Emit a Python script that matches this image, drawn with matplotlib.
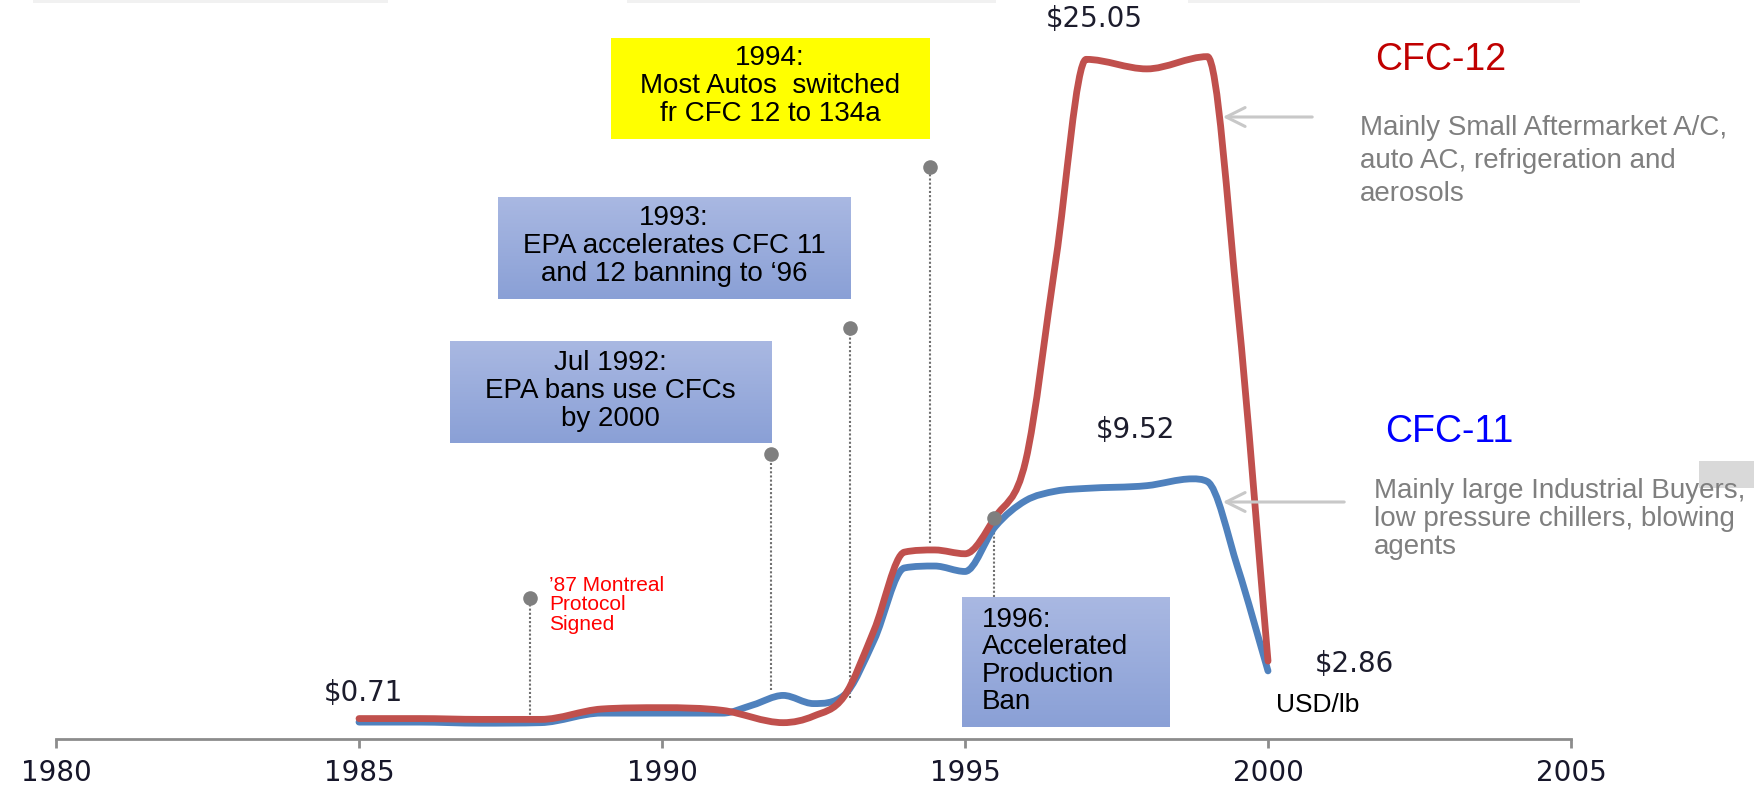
import numpy as np
import matplotlib
matplotlib.use("Agg")
import matplotlib.pyplot as plt
from matplotlib.path import Path
from matplotlib.patches import PathPatch, Rectangle, FancyArrowPatch
from matplotlib.colors import LinearSegmentedColormap

# CFC-12 price, USD/lb
cfc12_years = [1985, 1986, 1987, 1988, 1989, 1990, 1991, 1992, 1992.5, 1993, 1993.5,
               1994, 1994.5, 1995, 1995.5, 1996, 1996.5, 1997, 1998, 1999, 1999.5, 2000]
cfc12_price = [0.75, 0.75, 0.72, 0.72, 1.10, 1.15, 1.05, 0.60, 0.84, 1.55, 4.0,
               6.86, 6.94, 6.80, 8.15, 10.2, 17.6, 24.95, 24.6, 25.05, 15.8, 2.86]

# CFC-11 price, USD/lb
cfc11_years = [1985, 1986, 1987, 1988, 1989, 1990, 1991, 1991.5, 1992, 1992.5, 1993, 1993.5,
               1994, 1994.5, 1995, 1995.5, 1996, 1996.5, 1997, 1998, 1998.75, 1999, 1999.5, 2000]
cfc11_price = [0.62, 0.62, 0.58, 0.60, 0.95, 0.95, 0.95, 1.25, 1.60, 1.30, 1.60, 3.63,
               6.28, 6.35, 6.15, 7.8, 8.75, 9.1, 9.2, 9.3, 9.55, 9.45, 6.3, 2.5]

xticks = [1980, 1985, 1990, 1995, 2000, 2005]

# price call-outs
price_text = ["$0.71", "$25.05", "$9.52", "$2.86"]

# timeline events: year, dot height, bottom of the drop line
event_years = [1987.82, 1991.80, 1993.10, 1994.42, 1995.48]
event_dot = [5.18, 10.46, 15.09, 21.0, 8.11]
event_base = [0.75, 1.8, 1.5, 7.2, 5.2]

W, H = 1754, 787
fig = plt.figure(figsize=(W / 100, H / 100), dpi=100)


def fx(px):
    return px / W


def fy(py):
    return 1 - py / H


def smooth_path(x, y):
    # monotone cubic, drawn as bezier segments (smoothed line)
    x = np.asarray(x, float)
    y = np.asarray(y, float)
    d = np.diff(y) / np.diff(x)
    m = np.zeros(len(x))
    for i in range(1, len(x) - 1):
        if d[i - 1] * d[i] > 0:
            m[i] = (d[i - 1] + d[i]) / 2
            lim = 3 * min(abs(d[i - 1]), abs(d[i]))
            if abs(m[i]) > lim:
                m[i] = np.sign(m[i]) * lim
    m[0], m[-1] = d[0], d[-1]
    verts = [(x[0], y[0])]
    codes = [Path.MOVETO]
    for i in range(len(x) - 1):
        h = (x[i + 1] - x[i]) / 3
        verts += [(x[i] + h, y[i] + m[i] * h), (x[i + 1] - h, y[i + 1] - m[i + 1] * h), (x[i + 1], y[i + 1])]
        codes += [Path.CURVE4] * 3
    return Path(verts, codes)


ax = fig.add_axes([0, 48 / H, 1, 739 / H])
ax.set_xlim(1980 - 56 / 60.6, 1980 + 1698 / 60.6)
ax.set_ylim(0, 739 / 27.24)

ax.add_patch(PathPatch(smooth_path(cfc11_years, cfc11_price), fill=False, ec="#4f81bd", lw=4.9,
                       capstyle="round", joinstyle="round", zorder=3))
ax.add_patch(PathPatch(smooth_path(cfc12_years, cfc12_price), fill=False, ec="#c0504d", lw=4.9,
                       capstyle="round", joinstyle="round", zorder=4))

# axis
for s in ["top", "right", "left"]:
    ax.spines[s].set_visible(False)
ax.spines["bottom"].set_bounds(1980, 2005)
ax.spines["bottom"].set_color("#8c8c8c")
ax.spines["bottom"].set_linewidth(2)
ax.set_yticks([])
ax.set_xticks(xticks)
ax.set_xticklabels([str(t) for t in xticks], family="DejaVu Sans", fontsize=20, color="#16162a")
ax.tick_params(axis="x", direction="out", length=6.5, width=2, color="#8c8c8c", pad=8)
ax.patch.set_alpha(0)

# event markers
for yr, top, base in zip(event_years, event_dot, event_base):
    ax.plot([yr, yr], [base, top], color="#6f6f6f", lw=1.5, ls=(0, (1, 1)), zorder=2)
    ax.plot(yr, top, "o", color="#7f7f7f", ms=10.5, mec="none", zorder=5)

# price labels
label_pos = [(363, 693), (1094, 19), (1135, 430), (1354, 664)]
for txt, (px, py) in zip(price_text, label_pos):
    fig.text(fx(px), fy(py), txt, family="DejaVu Sans", fontsize=20, color="#1c1c2c",
             ha="center", va="center")
fig.text(fx(1318), fy(705), "USD/lb", family="Liberation Sans", fontsize=19, color="black",
         ha="center", va="center")

# faint shadows at the very top
for x0, x1 in [(33, 388), (627, 996), (1188, 1580)]:
    fig.add_artist(Rectangle((fx(x0), fy(3)), (x1 - x0) / W, 3 / H, transform=fig.transFigure,
                             fc="#f1f1f1", ec="none"))

# yellow box
fig.add_artist(Rectangle((fx(611), fy(139)), (930 - 611) / W, (139 - 38) / H,
                         transform=fig.transFigure, fc="#ffff00", ec="none", zorder=1))
fig.text(fx(770), fy(86), "1994:\nMost Autos  switched\nfr CFC 12 to 134a", family="Liberation Sans",
         fontsize=20, ha="center", va="center", multialignment="center", linespacing=1.09)

# blue gradient boxes
box_cmap = LinearSegmentedColormap.from_list("box", ["#a9b8e2", "#8aa0d6"])


def grad_box(x0, y0, x1, y1):
    bax = fig.add_axes([fx(x0), fy(y1), (x1 - x0) / W, (y1 - y0) / H])
    bax.imshow(np.linspace(0, 1, 100)[:, None], aspect="auto", cmap=box_cmap, extent=(0, 1, 0, 1))
    bax.axis("off")


grad_box(498, 197, 851, 299)
fig.text(fx(674), fy(246), "1993:\nEPA accelerates CFC 11\nand 12 banning to \u201896", family="Liberation Sans",
         fontsize=20, ha="center", va="center", multialignment="center", linespacing=1.09)

grad_box(450, 341, 771, 443)
fig.text(fx(610), fy(391), "Jul 1992:\nEPA bans use CFCs\nby 2000", family="Liberation Sans",
         fontsize=20, ha="center", va="center", multialignment="center", linespacing=1.09)

grad_box(962, 597, 1170, 727)
fig.text(fx(982), fy(661), "1996:\nAccelerated\nProduction\nBan", family="Liberation Sans",
         fontsize=20, ha="left", va="center", linespacing=1.08)

# Montreal protocol note
fig.text(fx(549), fy(605), "\u201987 Montreal\nProtocol\nSigned", family="Liberation Sans",
         fontsize=15, color="#ff0000", ha="left", va="center", linespacing=1.06)

# series descriptions
fig.text(fx(1375), fy(60), "CFC-12", family="Liberation Sans", fontsize=27, color="#c00000",
         ha="left", va="center")
fig.text(fx(1360), fy(161), "Mainly Small Aftermarket A/C,\nauto AC, refrigeration and\naerosols",
         family="Liberation Sans", fontsize=20, color="#7f7f7f", ha="left", va="center", linespacing=1.36)
fig.text(fx(1385), fy(432), "CFC-11", family="Liberation Sans", fontsize=27, color="#0000ff",
         ha="left", va="center")
fig.text(fx(1374), fy(519), "Mainly large Industrial Buyers,\nlow pressure chillers, blowing\nagents",
         family="Liberation Sans", fontsize=20, color="#7f7f7f", ha="left", va="center", linespacing=1.08)
fig.add_artist(Rectangle((fx(1699), fy(488)), (1754 - 1699) / W, 27 / H, transform=fig.transFigure,
                         fc="#d9d9d9", ec="none", zorder=0.5))

# arrows pointing at the curves
for y, tail in ((117, 1315), (502, 1347)):
    fig.add_artist(FancyArrowPatch((fx(tail), fy(y)), (fx(1220), fy(y)),
                                   transform=fig.transFigure, arrowstyle="->",
                                   mutation_scale=34, color="#c8c8c8", lw=2.2))

fig.savefig("out.png", dpi=100)
